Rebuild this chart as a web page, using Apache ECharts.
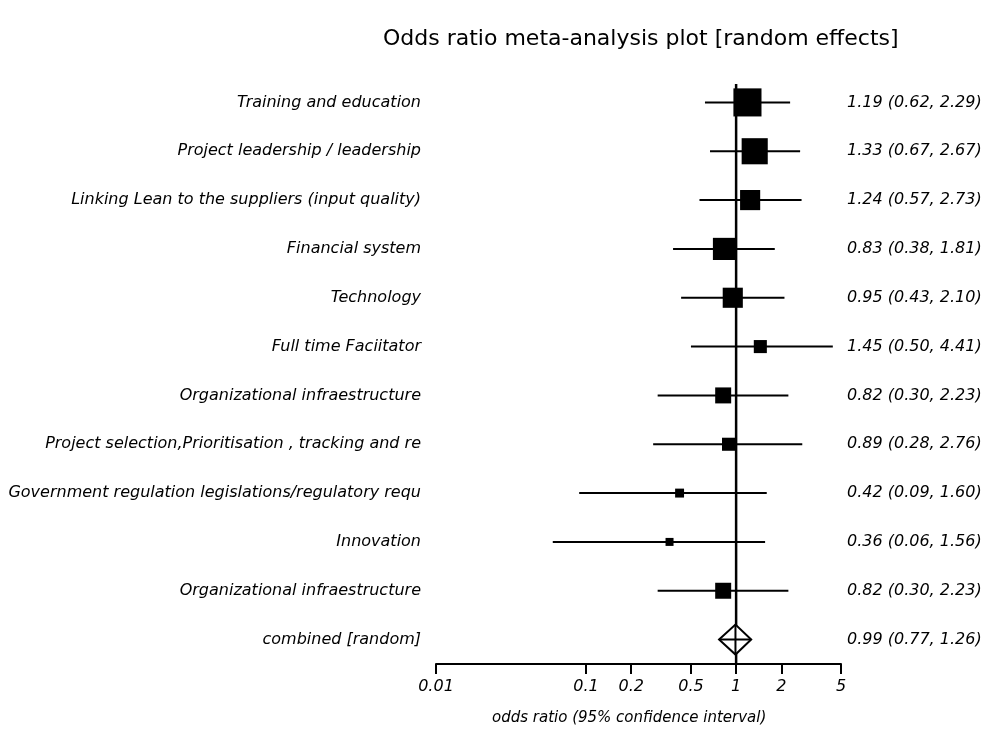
<!DOCTYPE html>
<html>
<head>
<meta charset="utf-8">
<script src="https://cdn.jsdelivr.net/npm/echarts@6/dist/echarts.min.js"></script>
<style>html,body{margin:0;padding:0;background:#fff}#c{width:985px;height:732px}</style>
</head>
<body>
<div id="c"></div>
<script>
const categories = [
  "Training and education",
  "Project leadership / leadership",
  "Linking Lean to the suppliers (input quality)",
  "Financial system",
  "Technology",
  "Full time Faciitator",
  "Organizational infraestructure",
  "Project selection,Prioritisation , tracking and re",
  "Government regulation legislations/regulatory requ",
  "Innovation",
  "Organizational infraestructure",
  "combined [random]"
];
const oddsRatio = [1.19, 1.33, 1.24, 0.83, 0.95, 1.45, 0.82, 0.89, 0.42, 0.36, 0.82, 0.99];
const ciLower   = [0.62, 0.67, 0.57, 0.38, 0.43, 0.50, 0.30, 0.28, 0.09, 0.06, 0.30, 0.77];
const ciUpper   = [2.29, 2.67, 2.73, 1.81, 2.10, 4.41, 2.23, 2.76, 1.60, 1.56, 2.23, 1.26];
const weights   = [14.8, 12.8, 7.6, 9.2, 7.6, 3.2, 4.8, 3.2, 1.5, 1.2, 4.8, null];
const ciLabels  = [
  "1.19 (0.62, 2.29)", "1.33 (0.67, 2.67)", "1.24 (0.57, 2.73)", "0.83 (0.38, 1.81)",
  "0.95 (0.43, 2.10)", "1.45 (0.50, 4.41)", "0.82 (0.30, 2.23)", "0.89 (0.28, 2.76)",
  "0.42 (0.09, 1.60)", "0.36 (0.06, 1.56)", "0.82 (0.30, 2.23)", "0.99 (0.77, 1.26)"
];
const xTicks = [0.01, 0.1, 0.2, 0.5, 1, 2, 5];
const nullValue = 1;

const FONT = '"DejaVu Sans", "Liberation Sans", Arial, sans-serif';
const chart = echarts.init(document.getElementById('c'), null, {renderer: 'canvas'});

const studyData = [];
for (let i = 0; i < categories.length; i++) {
  studyData.push([oddsRatio[i], i, ciLower[i], ciUpper[i], weights[i]]);
}

chart.setOption({
  animation: false,
  backgroundColor: '#fff',
  title: {
    text: 'Odds ratio meta-analysis plot [random effects]',
    left: 378, top: 23,
    textStyle: {fontFamily: FONT, fontSize: 22, fontWeight: 'normal', color: '#000'}
  },
  grid: {left: 436, right: 144, top: 78, height: 586, containLabel: false},
  xAxis: {
    type: 'log', logBase: 10, min: 0.01, max: 5,
    axisLine: {show: true, lineStyle: {color: '#000', width: 2}},
    axisTick: {show: true, length: 10, lineStyle: {color: '#000', width: 2}, customValues: xTicks},
    axisLabel: {
      customValues: xTicks, margin: 15, color: '#000',
      fontFamily: FONT, fontSize: 16, fontStyle: 'italic',
      formatter: function (v) { return String(+Number(v).toPrecision(3)); }
    },
    splitLine: {show: false}
  },
  yAxis: [{
    type: 'category', data: categories, inverse: true,
    axisLine: {show: false}, axisTick: {show: false}, splitLine: {show: false},
    axisLabel: {margin: 15, color: '#000', fontFamily: FONT, fontSize: 16, fontStyle: 'italic', align: 'right'}
  }, {
    type: 'category', data: ciLabels, inverse: true, position: 'right',
    axisLine: {show: false}, axisTick: {show: false}, splitLine: {show: false},
    axisLabel: {margin: 6, color: '#000', fontFamily: FONT, fontSize: 16, fontStyle: 'italic', align: 'left'}
  }],
  graphic: [{
    type: 'text', left: 492, top: 711,
    style: {text: 'odds ratio (95% confidence interval)', font: 'italic 15px ' + FONT, fill: '#000'}
  }],
  series: [{
    type: 'custom',
    name: 'reference',
    data: [[nullValue, 0]],
    renderItem: function (params, api) {
      const x = api.coord([nullValue, 0])[0];
      const cs = params.coordSys;
      return {type: 'line', shape: {x1: x, y1: cs.y + 6, x2: x, y2: cs.y + cs.height},
        style: {stroke: '#000', lineWidth: 2.5}};
    },
    z: 1
  }, {
    type: 'custom',
    name: 'studies',
    data: studyData,
    encode: {x: 0, y: 1},
    renderItem: function (params, api) {
      const est = api.value(0), idx = api.value(1), lo = api.value(2), hi = api.value(3), w = api.value(4);
      const c = api.coord([est, idx]);
      const pl = api.coord([lo, idx]);
      const ph = api.coord([hi, idx]);
      if (idx === categories.length - 1) {
        const h = 15;
        return {type: 'group', children: [
          {type: 'polygon', shape: {points: [[pl[0], c[1]], [c[0], c[1] - h], [ph[0], c[1]], [c[0], c[1] + h]]},
            style: {fill: '#fff', stroke: '#000', lineWidth: 2}},
          {type: 'line', shape: {x1: pl[0], y1: c[1], x2: ph[0], y2: c[1]}, style: {stroke: '#000', lineWidth: 2}},
          {type: 'line', shape: {x1: c[0], y1: c[1] - h, x2: c[0], y2: c[1] + h}, style: {stroke: '#000', lineWidth: 2}}
        ]};
      }
      const s = 7.3 * Math.sqrt(w);
      return {type: 'group', children: [
        {type: 'line', shape: {x1: pl[0], y1: c[1], x2: ph[0], y2: c[1]}, style: {stroke: '#000', lineWidth: 2}},
        {type: 'rect', shape: {x: c[0] - s / 2, y: c[1] - s / 2, width: s, height: s}, style: {fill: '#000'}}
      ]};
    },
    z: 2
  }]
});
</script>
</body>
</html>
